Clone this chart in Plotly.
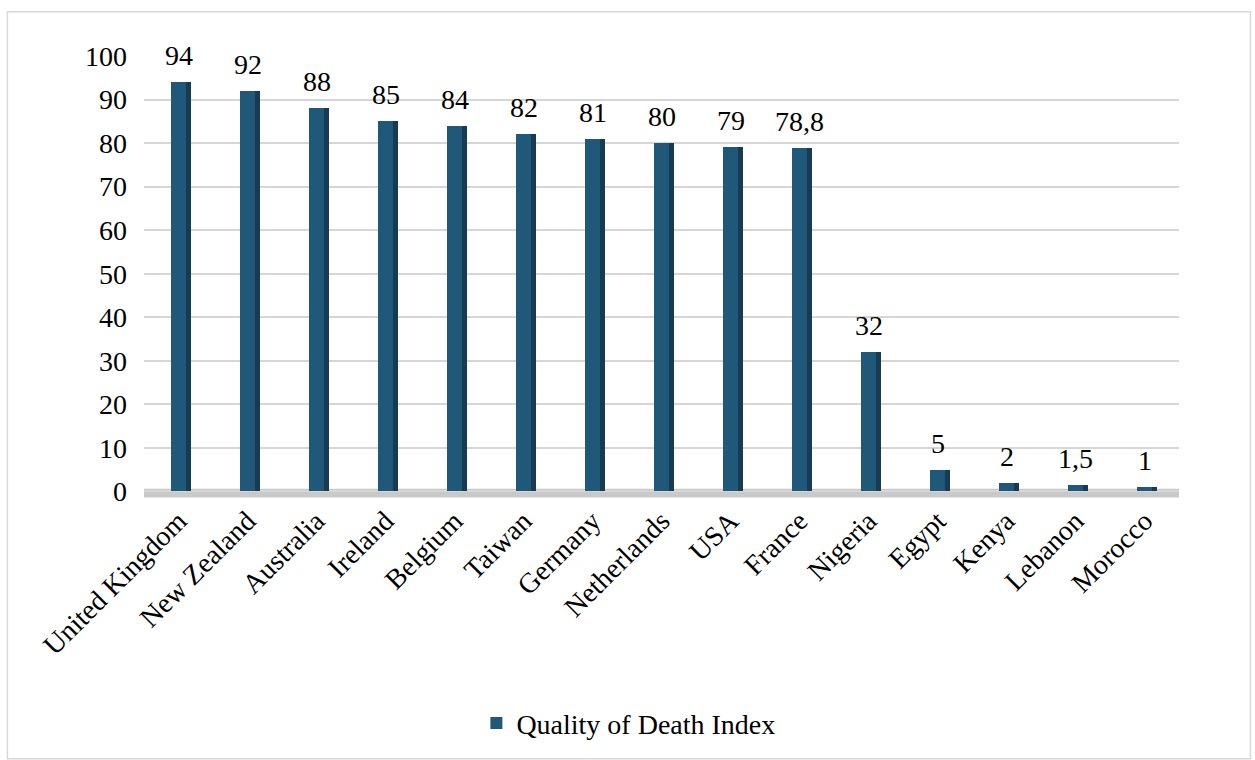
import plotly.graph_objects as go

countries = ["United Kingdom", "New Zealand", "Australia", "Ireland", "Belgium",
             "Taiwan", "Germany", "Netherlands", "USA", "France", "Nigeria",
             "Egypt", "Kenya", "Lebanon", "Morocco"]
values = [94, 92, 88, 85, 84, 82, 81, 80, 79, 78.8, 32, 5, 2, 1.5, 1]
value_labels = ["94", "92", "88", "85", "84", "82", "81", "80", "79", "78,8",
                "32", "5", "2", "1,5", "1"]
y_ticks = [0, 10, 20, 30, 40, 50, 60, 70, 80, 90, 100]

FONT = "Liberation Serif"
FRONT = "#1f5878"
SIDE = "#173b52"

fig = go.Figure()
# side face (pseudo 3D)
fig.add_trace(go.Bar(
    x=countries, y=values, width=0.075, offset=0.105,
    marker=dict(color=SIDE, line=dict(width=0)),
    showlegend=False, hoverinfo="skip"))
# front face
fig.add_trace(go.Bar(
    x=countries, y=values, width=0.22, offset=-0.115,
    name="Quality of Death Index",
    marker=dict(color=FRONT, line=dict(width=0))))

for c, v, t in zip(countries, values, value_labels):
    fig.add_annotation(x=c, y=v, text=t, showarrow=False, yanchor="bottom",
                       yshift=9, font=dict(family=FONT, size=28, color="#000"))

# floor band
fig.add_shape(type="rect", xref="x", yref="y", x0=-0.6, x1=14.8, y0=-1.4, y1=0.6,
              fillcolor="#c9c9c9", line=dict(width=0), layer="below")
# outer border
fig.add_shape(type="rect", xref="paper", yref="paper",
              x0=-0.132, x1=1.069, y0=-0.59, y1=1.10,
              line=dict(color="#d9d9d9", width=1.5), fillcolor="rgba(0,0,0,0)")

fig.update_layout(
    width=1255, height=760,
    margin=dict(l=144, r=76, t=56, b=257),
    paper_bgcolor="white", plot_bgcolor="white",
    barmode="overlay", bargap=0,
    font=dict(family=FONT, size=28, color="#000"),
    showlegend=True,
    legend=dict(orientation="h", x=0.468, xanchor="center", y=-0.51, yanchor="middle",
                font=dict(family=FONT, size=28, color="#000")),
    xaxis=dict(tickangle=-45, showgrid=False, showline=False, ticks="",
               tickfont=dict(family=FONT, size=28, color="#000"),
               range=[-0.5, 14.5]),
    yaxis=dict(range=[-1.5, 100], tickvals=y_ticks, showgrid=True,
               gridcolor="#d6d6d6", gridwidth=2, zeroline=False, showline=False,
               ticks="", ticklabelstandoff=16,
               tickfont=dict(family=FONT, size=28, color="#000")),
)

fig.write_html("out.html")
